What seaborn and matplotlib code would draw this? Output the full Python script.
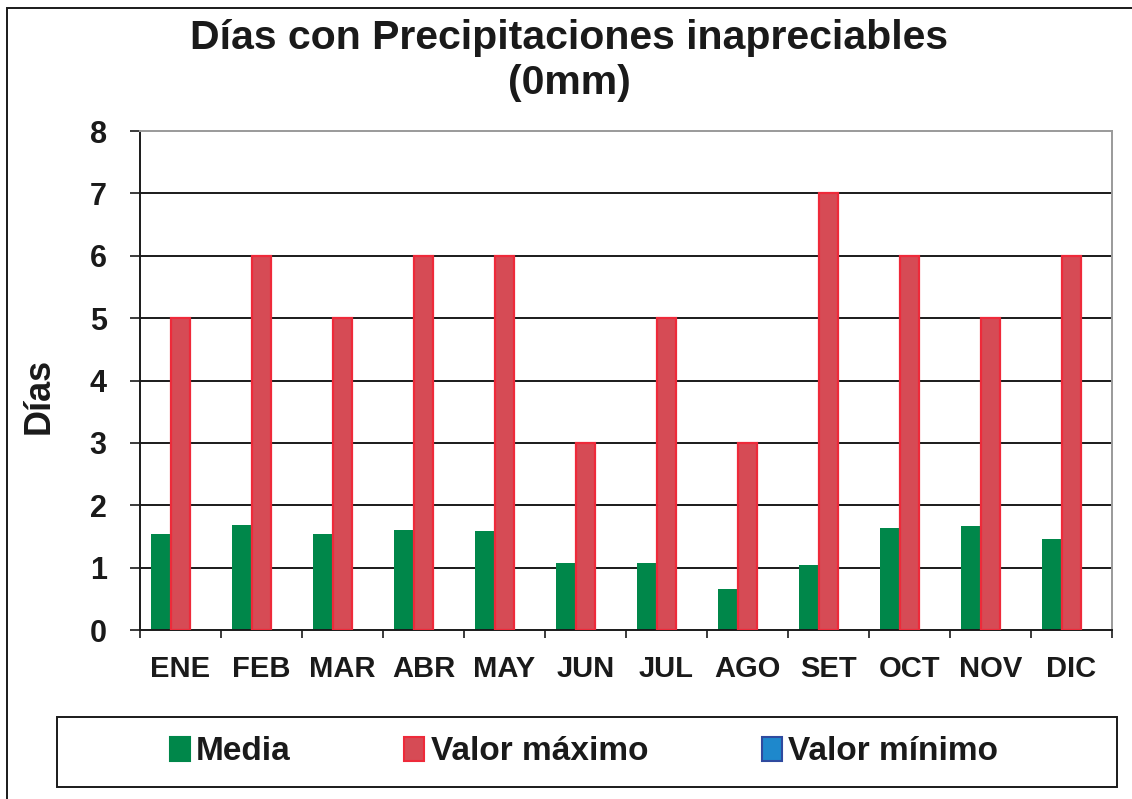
import matplotlib
matplotlib.use("Agg")
import matplotlib.pyplot as plt
from matplotlib.patches import Patch, Rectangle
import seaborn as sns
import pandas as pd

meses = ["ENE", "FEB", "MAR", "ABR", "MAY", "JUN", "JUL", "AGO", "SET", "OCT", "NOV", "DIC"]
media = [1.54, 1.69, 1.54, 1.61, 1.58, 1.08, 1.08, 0.66, 1.05, 1.63, 1.66, 1.46]
valor_maximo = [5, 6, 5, 6, 6, 3, 5, 3, 7, 6, 5, 6]
valor_minimo = [0, 0, 0, 0, 0, 0, 0, 0, 0, 0, 0, 0]
series = ["Media", "Valor máximo", "Valor mínimo"]
y_ticks = [0, 1, 2, 3, 4, 5, 6, 7, 8]

df = pd.DataFrame({
    "mes": meses * 3,
    "serie": [series[0]] * 12 + [series[1]] * 12 + [series[2]] * 12,
    "dias": media + valor_maximo + valor_minimo,
})

sns.set_theme(style="white")
plt.rcParams["font.family"] = ["Liberation Sans", "DejaVu Sans"]
plt.rcParams["font.weight"] = "bold"

fills = {"Media": "#00874A", "Valor máximo": "#D64B55", "Valor mínimo": "#1E88CC"}
edges = {"Media": "#00874A", "Valor máximo": "#EE2A3A", "Valor mínimo": "#2F4A9F"}
ink = "#1a1a1a"

fig = plt.figure(figsize=(11.32, 7.99), dpi=100)
ax = fig.add_axes([0.1237, 0.2115, 0.8586, 0.6245])

sns.barplot(data=df, x="mes", y="dias", hue="serie", order=meses, hue_order=series,
            palette=fills, width=0.72, legend=False, ax=ax, saturation=1)

n = len(meses)
for i, s in enumerate(series):
    for p in ax.patches[i * n:(i + 1) * n]:
        p.set_edgecolor(edges[s])
        p.set_linewidth(1.6 if s == "Valor máximo" else 0)
        p.set_zorder(3 if s == "Valor máximo" else 2)

ax.set_ylim(0, 8)
ax.set_xlim(-0.5, n - 0.5)
ax.set_yticks(y_ticks)
ax.set_yticklabels([str(t) for t in y_ticks], fontsize=22, fontweight="bold", color=ink)
ax.set_xticks(range(n))
ax.set_xticklabels(meses, fontsize=21, fontweight="bold", color=ink)
ax.set_xlabel("")
ax.set_ylabel("")

# horizontal gridlines
for t in y_ticks[1:-1]:
    ax.axhline(t, color=ink, lw=1.4, zorder=1)

# tick marks: outward on the y axis, between categories on the x axis
ax.tick_params(axis="y", which="major", direction="out", length=7, width=1.2,
               color=ink, pad=17, left=True)
ax.set_xticks([i - 0.5 for i in range(n + 1)], minor=True)
ax.tick_params(axis="x", which="minor", direction="out", length=6, width=1.2,
               color=ink, bottom=True)
ax.tick_params(axis="x", which="major", length=0, pad=18)

for side in ["left", "bottom"]:
    ax.spines[side].set_color(ink)
    ax.spines[side].set_linewidth(1.4)
for side in ["top", "right"]:
    ax.spines[side].set_color("#9a9a9a")
    ax.spines[side].set_linewidth(1.4)

fig.text(0.503, 0.953, "Días con Precipitaciones inapreciables", ha="center", va="center",
         fontsize=29.5, fontweight="bold", color=ink)
fig.text(0.503, 0.896, "(0mm)", ha="center", va="center",
         fontsize=29.5, fontweight="bold", color=ink)
fig.text(0.035, 0.505, "Días", ha="center", va="center", rotation=90,
         fontsize=26, fontweight="bold", color=ink)

# legend box
fig.patches.append(Rectangle((57 / 1132, 1 - 787 / 799), 1060 / 1132, 70 / 799,
                             transform=fig.transFigure, fill=False,
                             edgecolor=ink, linewidth=1.4))
handles = [Patch(facecolor=fills[s], edgecolor=edges[s], linewidth=1.5, label=s) for s in series]
leg = fig.legend(handles=handles, loc="center", ncol=3,
                 bbox_to_anchor=(584 / 1132, 1 - 752 / 799),
                 frameon=False, prop={"size": 24, "weight": "bold"},
                 handlelength=0.6, handleheight=0.75, handletextpad=0.2,
                 columnspacing=3.4)
for txt in leg.get_texts():
    txt.set_color(ink)

# outer chart frame
fig.patches.append(Rectangle((7 / 1132, -0.1), 1.2, 1.1 - 8 / 799, transform=fig.transFigure,
                             fill=False, edgecolor=ink, linewidth=1.4))

fig.savefig("out.png", dpi=100, facecolor="white")
